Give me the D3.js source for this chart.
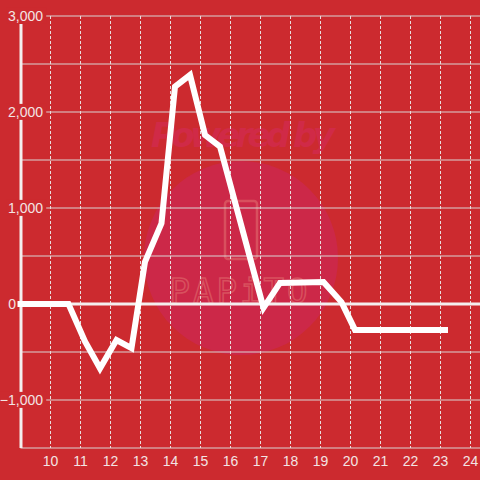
<!DOCTYPE html>
<html>
<head>
<meta charset="utf-8">
<script src="https://cdn.jsdelivr.net/npm/d3@7"></script>
<style>
  html, body { margin: 0; padding: 0; background: #cc2a2f; }
  svg { display: block; font-family: "Liberation Sans", Arial, sans-serif; }
</style>
</head>
<body>
<svg id="chart" width="480" height="480"></svg>
<script>
// данные
const hours = [9, 10.6, 11.15, 11.65, 12.2, 12.7, 13.15, 13.7, 14.15, 14.65, 15.15, 15.65, 17.1, 17.65, 19.1, 19.7, 20.15, 23.15]
const values = [0, 0, -390, -670, -375, -460, 440, 840, 2265, 2385, 1760, 1640, -40, 220, 230, 20, -270, -270]
const xTicks = [10, 11, 12, 13, 14, 15, 16, 17, 18, 19, 20, 21, 22, 23, 24]
const yTicks = [-1000, 0, 1000, 2000, 3000]
const yGrid = [-1500, -1000, -500, 0, 500, 1000, 1500, 2000, 2500, 3000]

const svg = d3.select('#chart'),
    width = +svg.attr('width'),
    height = +svg.attr('height')

const bg = '#cc2a2f'
const x = d3.scaleLinear().domain([9, 24]).range([20.5, 470.5])
const y = d3.scaleLinear().domain([-1500, 3000]).range([448, 16])

svg.append('rect').attr('width', width).attr('height', height).attr('fill', bg)

// водяной знак
const wm = svg.append('g')
wm.append('circle').attr('cx', 241).attr('cy', 258).attr('r', 97).attr('fill', '#cc2848')
wm.append('text')
    .attr('x', 243).attr('y', 147)
    .attr('text-anchor', 'middle')
    .attr('font-size', 34).attr('font-weight', 900).attr('font-style', 'italic')
    .attr('font-family', '"DejaVu Sans", sans-serif')
    .attr('textLength', 184)
    .attr('fill', '#d02a47')
    .text('Powered by')
wm.append('rect')
    .attr('x', 225).attr('y', 201).attr('width', 32).attr('height', 58).attr('rx', 3)
    .attr('fill', 'none').attr('stroke', '#d8505e').attr('stroke-width', 2.5)
wm.append('text')
    .attr('x', 240).attr('y', 303)
    .attr('text-anchor', 'middle')
    .attr('font-size', 34).attr('letter-spacing', 3)
    .attr('font-family', '"DejaVu Sans Mono", monospace')
    .attr('fill', 'none').attr('stroke', '#d8505e').attr('stroke-width', 1.5)
    .text('PAPiTO')

// сетка
svg.append('g')
    .selectAll('line')
    .data(yGrid)
    .join('line')
    .attr('x1', x(9)).attr('x2', width)
    .attr('y1', d => y(d)).attr('y2', d => y(d))
    .attr('stroke', '#d9d4d4').attr('stroke-width', 1)

svg.append('g')
    .selectAll('line')
    .data(xTicks)
    .join('line')
    .attr('x1', d => x(d)).attr('x2', d => x(d))
    .attr('y1', y(3000)).attr('y2', y(-1500))
    .attr('stroke', '#e8dede').attr('stroke-width', 1)
    .attr('stroke-dasharray', '3,2')

// нулевая линия
svg.append('line')
    .attr('x1', x(9)).attr('x2', width)
    .attr('y1', y(0)).attr('y2', y(0))
    .attr('stroke', '#f4eeee').attr('stroke-width', 3)

// ось Y
svg.append('line')
    .attr('x1', 21).attr('x2', 21)
    .attr('y1', 24).attr('y2', y(-1500))
    .attr('stroke', '#f4eeee').attr('stroke-width', 3)

// подписи оси Y с фоном (ноль стоит левее оси)
const yLab = svg.append('g')
    .selectAll('g')
    .data(yTicks)
    .join('g')
    .attr('transform', d => `translate(${d === 0 ? 16 : 43},${y(d)})`)
yLab.append('text')
    .attr('text-anchor', 'end')
    .attr('dy', '0.35em')
    .attr('font-size', 14)
    .attr('fill', '#f3e4e4')
    .text(d => d3.format(',')(d))
    .each(function (d) {
        if (d === 0) return
        const b = this.getBBox()
        d3.select(this.parentNode).insert('rect', 'text')
            .attr('x', b.x - 1).attr('y', b.y)
            .attr('width', b.width + 4).attr('height', b.height)
            .attr('fill', bg)
    })

// подписи оси X
svg.append('g')
    .selectAll('text')
    .data(xTicks)
    .join('text')
    .attr('x', d => x(d))
    .attr('y', 466)
    .attr('text-anchor', 'middle')
    .attr('font-size', 14)
    .attr('fill', '#f3e4e4')
    .text(d => d)

// линия
const line = d3.line()
    .x((d, i) => x(hours[i]))
    .y(d => y(d))

svg.append('path')
    .datum(values)
    .attr('d', line)
    .attr('fill', 'none')
    .attr('stroke', '#ffffff')
    .attr('stroke-width', 6)
    .attr('stroke-linecap', 'square')
</script>
</body>
</html>
